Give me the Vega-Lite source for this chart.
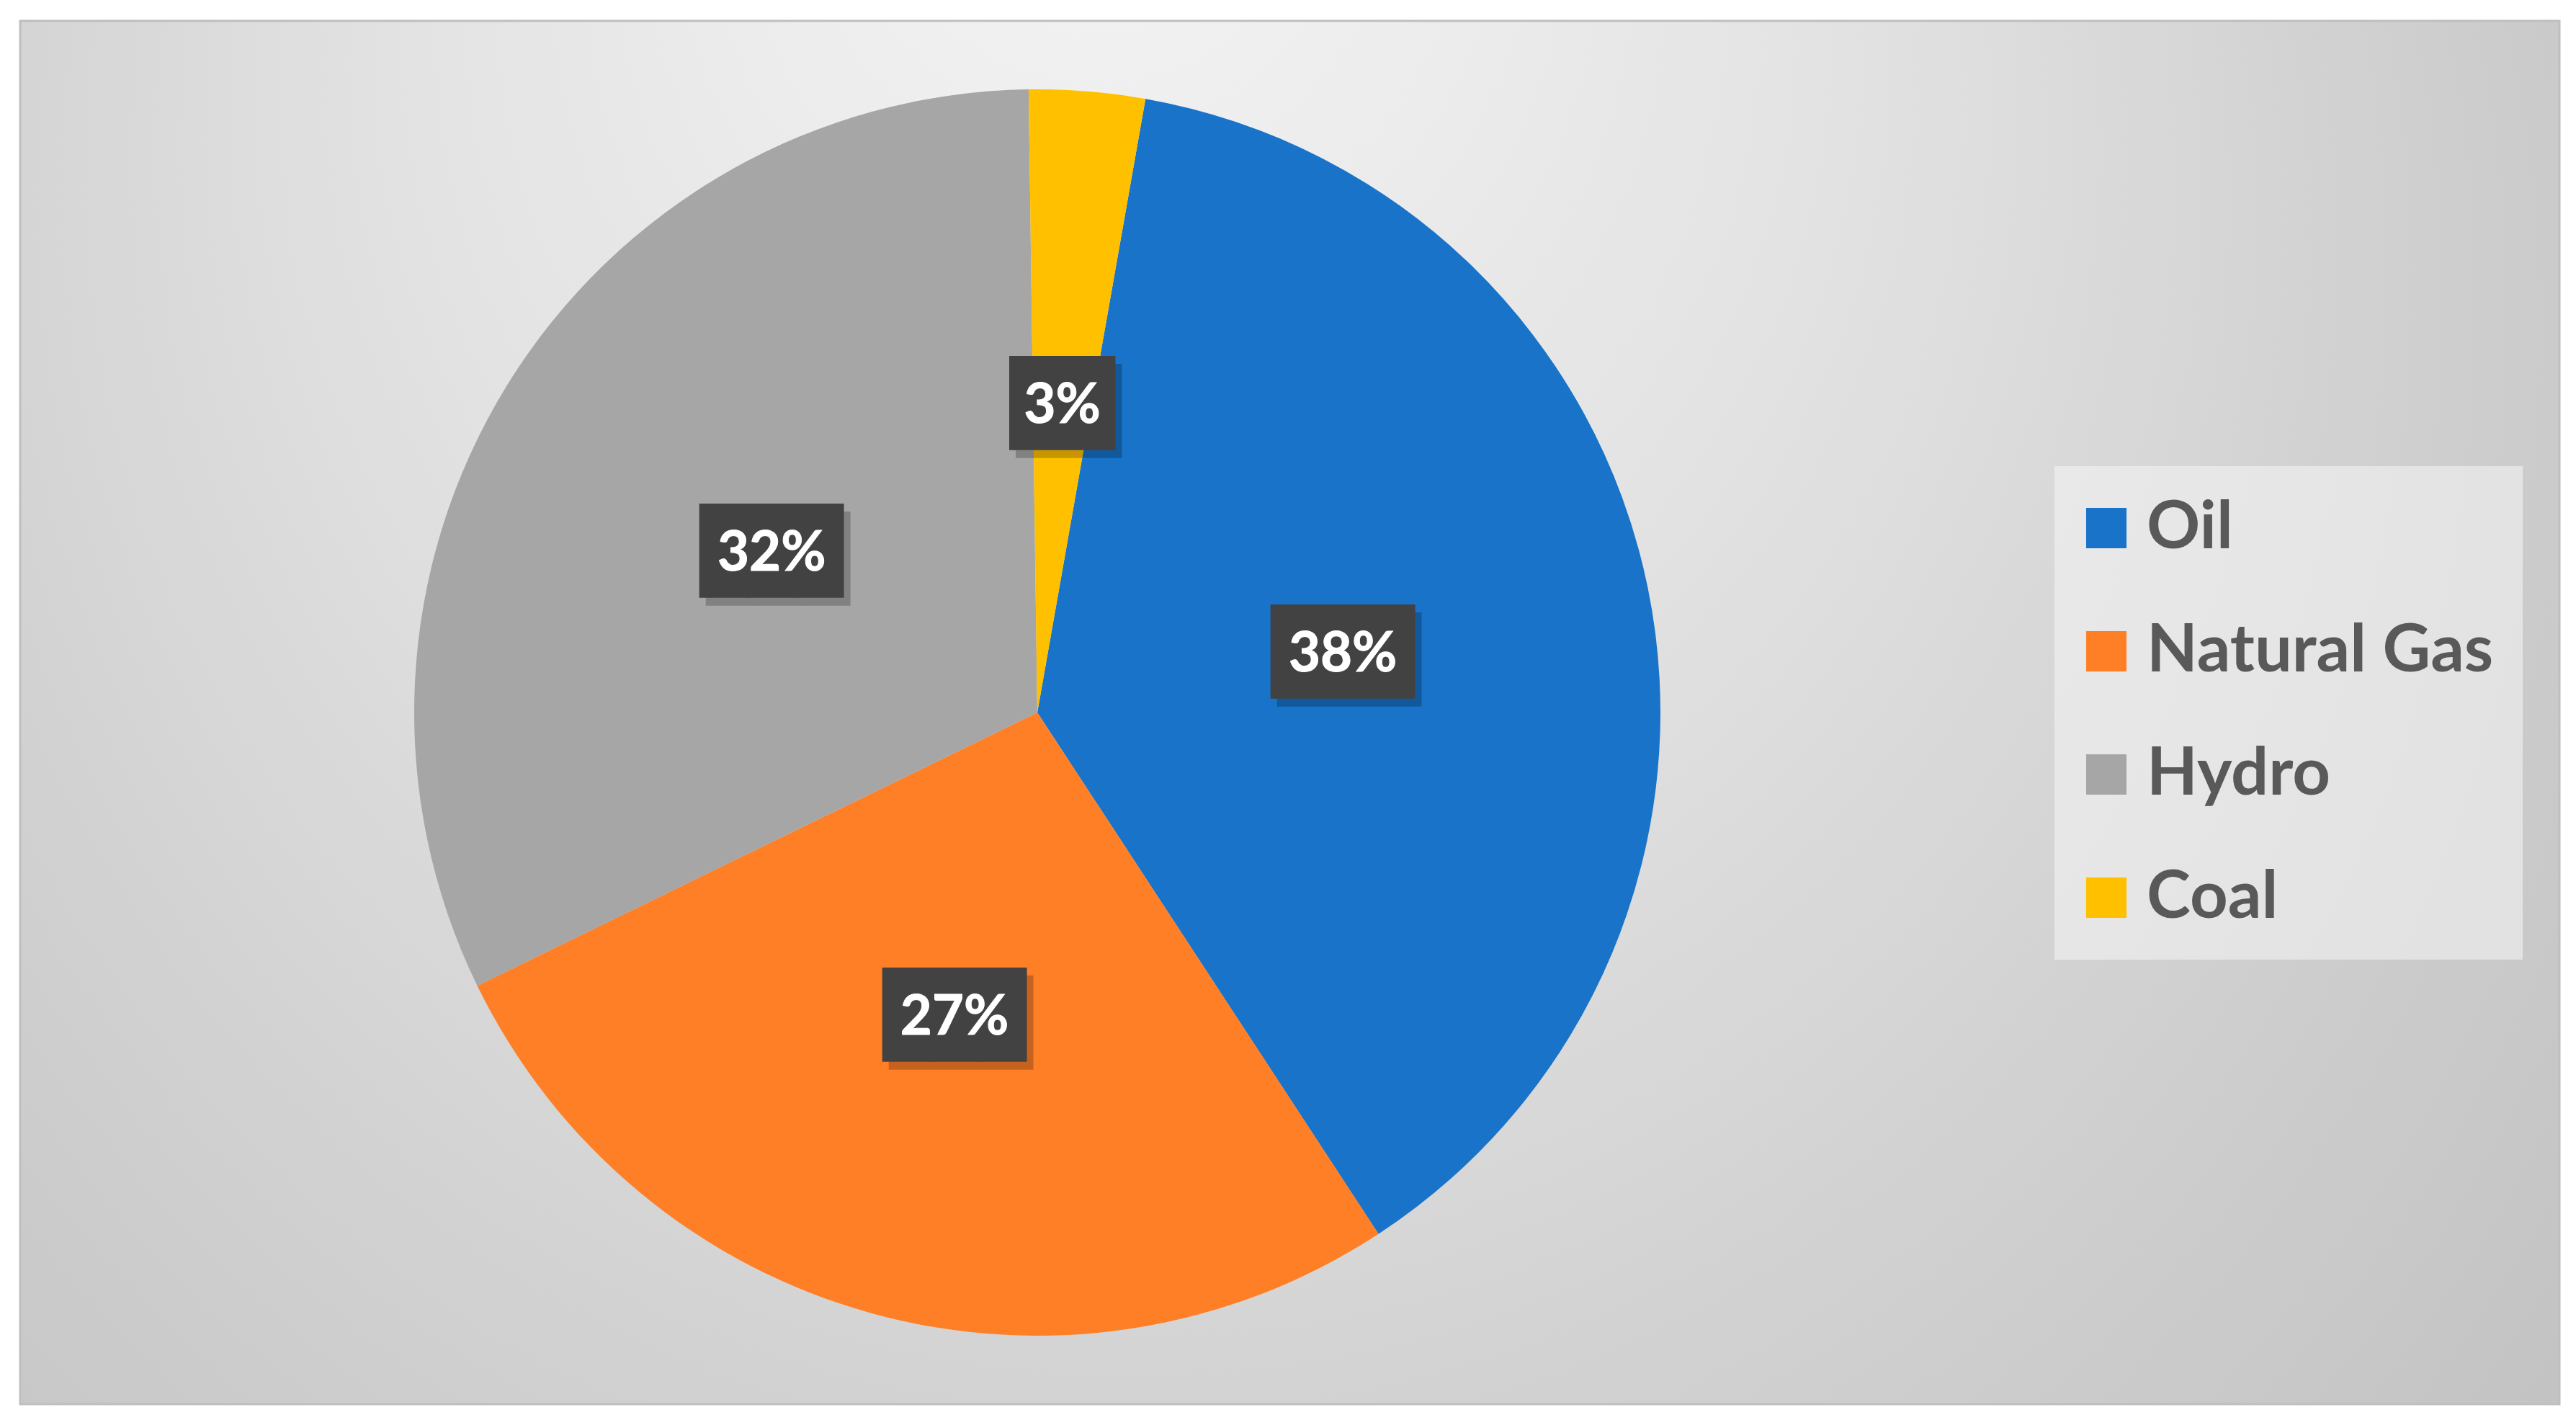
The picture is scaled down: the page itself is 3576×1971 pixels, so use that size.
{
  "$schema": "https://vega.github.io/schema/vega-lite/v6.json",
  "width": 2824,
  "height": 1920,
  "autosize": {"type": "none"},
  "padding": {"left": 28, "top": 29, "right": 724, "bottom": 22},
  "background": "white",
  "config": {"view": {"stroke": null}},
  "data": {"values": [
    {"category": "Oil", "value": 38, "label": "38%"},
    {"category": "Natural Gas", "value": 27, "label": "27%"},
    {"category": "Hydro", "value": 32, "label": "32%"},
    {"category": "Coal", "value": 3, "label": "3%"}
  ]},
  "layer": [
    {
      "data": {"values": [{"frame": "chart area"}]},
      "mark": {
        "type": "rect",
        "stroke": "#bfbfbf",
        "strokeWidth": 3,
        "fill": {
          "gradient": "radial",
          "x1": 0.42, "y1": 0.12, "r1": 0,
          "x2": 0.45, "y2": 0.42, "r2": 0.72,
          "stops": [
            {"offset": 0, "color": "#f6f6f6"},
            {"offset": 0.4, "color": "#e2e2e2"},
            {"offset": 0.7, "color": "#cfcfcf"},
            {"offset": 1, "color": "#bfbfbf"}
          ]
        }
      },
      "encoding": {
        "x": {"value": 0},
        "x2": {"value": 3525},
        "y": {"value": 0},
        "y2": {"value": "height"}
      }
    },
    {
      "mark": {"type": "arc", "outerRadius": 865},
      "encoding": {
        "theta": {"field": "value", "type": "quantitative", "stack": true, "scale": {"range": [0.1745, 6.4577]}},
        "order": {"field": "category", "sort": "descending"},
        "color": {
          "field": "category", "type": "nominal",
          "scale": {"domain": ["Oil", "Natural Gas", "Hydro", "Coal"], "range": ["#1873C9", "#FF7F27", "#A6A6A6", "#FFC000"]},
          "legend": {
            "title": null,
            "orient": "none",
            "legendX": 2824,
            "legendY": 618,
            "padding": 40,
            "fillColor": "rgba(245,245,245,0.55)",
            "symbolType": "square",
            "symbolSize": 3136,
            "symbolStrokeWidth": 0,
            "symbolOpacity": 1,
            "symbolOffset": -14,
            "labelFont": "Lato",
            "labelFontWeight": "bold",
            "labelFontSize": 92,
            "labelColor": "#595959",
            "labelOffset": 10,
            "labelLimit": 1000,
            "rowPadding": 79
          }
        }
      }
    },
    {
      "mark": {"type": "text", "radius": 433, "font": "DejaVu Sans Mono", "fontSize": 110, "baseline": "middle", "align": "center", "fill": "black", "opacity": 0.22, "dx": 9, "dy": 18},
      "encoding": {
        "theta": {"field": "value", "type": "quantitative", "stack": true},
        "order": {"field": "category", "sort": "descending"},
        "detail": {"field": "category"},
        "text": {"condition": {"test": "datum.value < 10", "value": "▕██▏"}, "value": "███"}
      }
    },
    {
      "mark": {"type": "text", "radius": 433, "font": "DejaVu Sans Mono", "fontSize": 110, "baseline": "middle", "align": "center", "fill": "#424242", "dy": 7},
      "encoding": {
        "theta": {"field": "value", "type": "quantitative", "stack": true},
        "order": {"field": "category", "sort": "descending"},
        "detail": {"field": "category"},
        "text": {"condition": {"test": "datum.value < 10", "value": "▕██▏"}, "value": "███"}
      }
    },
    {
      "mark": {"type": "text", "radius": 433, "font": "Lato", "fontWeight": "bold", "fontSize": 76, "baseline": "middle", "align": "center", "fill": "white", "stroke": "white", "strokeWidth": 1, "dy": 7},
      "encoding": {
        "theta": {"field": "value", "type": "quantitative", "stack": true},
        "order": {"field": "category", "sort": "descending"},
        "detail": {"field": "category"},
        "text": {"field": "label"}
      }
    }
  ]
}
